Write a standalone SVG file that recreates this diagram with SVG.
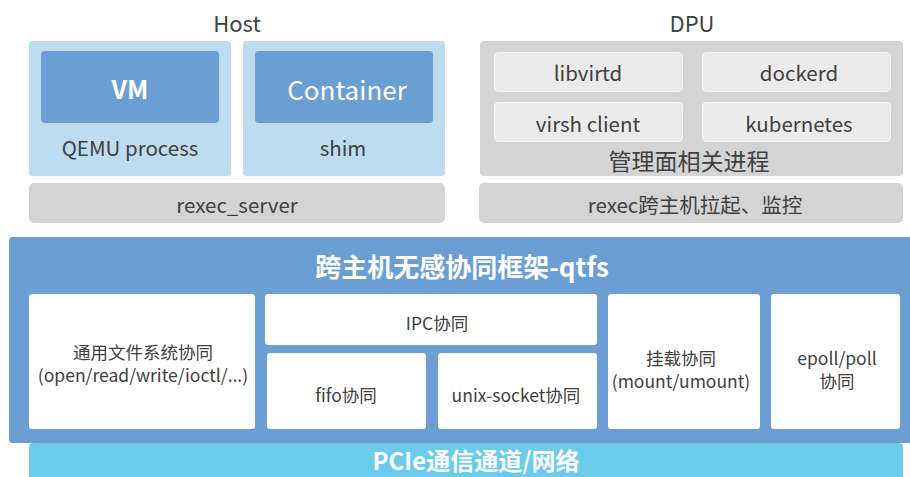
<svg xmlns="http://www.w3.org/2000/svg" width="910" height="477" viewBox="0 0 910 477">
<style>
text{font-family:"Noto Sans CJK SC","Noto Sans",sans-serif;text-anchor:middle;dominant-baseline:central}
.t{fill:#404040}
.w{fill:#fff}
.hb{fill:#bddcef}
.vm{fill:#6b9fd4}
.gb{fill:#d4d4d4}
.gi{fill:#ebebeb;stroke:#f6f6f6;stroke-width:1}
.wb{fill:#fff}
.s{font-size:17.5px}
</style>
<rect width="910" height="477" fill="#fff"/>
<g id="host">
<text class="t" x="237" y="22" font-size="22">Host</text>
</g>
<g id="host-vm">
<rect class="hb" x="29" y="41" width="202" height="135" rx="3"/>
<rect class="vm" x="41" y="51" width="178" height="72" rx="4"/>
<text class="w" x="130" y="88" font-size="25" font-weight="bold">VM</text>
<text class="t" x="130" y="147" font-size="20.5">QEMU process</text>
</g>
<g id="host-container">
<rect class="hb" x="243" y="41" width="202" height="135" rx="3"/>
<rect class="vm" x="255" y="51" width="178" height="72" rx="4"/>
<text class="w" x="347" y="88" font-size="26">Container</text>
<text class="t" x="343" y="147" font-size="20.5">shim</text>
</g>
<g id="rexec-server">
<rect class="gb" x="29" y="183" width="416" height="40" rx="5"/>
<text class="t" x="237" y="204" font-size="20.5">rexec_server</text>
</g>
<g id="dpu">
<text class="t" x="692" y="22" font-size="22">DPU</text>
<rect class="gb" x="480" y="41" width="423" height="135" rx="4"/>
<text class="t" x="689" y="160" font-size="23">管理面相关进程</text>
</g>
<g id="libvirtd">
<rect class="gi" x="494.5" y="52.5" width="188" height="39" rx="4"/>
<text class="t" x="588" y="72" font-size="20.5">libvirtd</text>
</g>
<g id="dockerd">
<rect class="gi" x="702.5" y="52.5" width="188" height="39" rx="4"/>
<text class="t" x="799" y="72" font-size="20.5">dockerd</text>
</g>
<g id="virsh">
<rect class="gi" x="494.5" y="102.5" width="188" height="39" rx="4"/>
<text class="t" x="588" y="123" font-size="20.5">virsh client</text>
</g>
<g id="kubernetes">
<rect class="gi" x="702.5" y="102.5" width="188" height="39" rx="4"/>
<text class="t" x="799" y="123" font-size="20.5">kubernetes</text>
</g>
<g id="rexec-dpu">
<rect class="gb" x="479" y="183" width="424" height="40" rx="5"/>
<text class="t" x="695" y="204" font-size="20.5">rexec跨主机拉起、监控</text>
</g>
<g id="qtfs">
<rect fill="#6b9fd3" x="9" y="237" width="910" height="206" rx="4"/>
<text class="w" x="462" y="265" font-size="26" font-weight="bold">跨主机无感协同框架-qtfs</text>
</g>
<g id="fs">
<rect class="wb" x="29" y="294" width="226" height="135" rx="3"/>
<text class="t s" x="143" y="351">通用文件系统协同</text>
<text class="t s" x="143" y="374">(open/read/write/ioctl/...)</text>
</g>
<g id="ipc">
<rect class="wb" x="265" y="294" width="332" height="51" rx="3"/>
<text class="t s" x="437" y="322">IPC协同</text>
</g>
<g id="fifo">
<rect class="wb" x="267" y="353" width="159" height="76" rx="3"/>
<text class="t s" x="346" y="394">fifo协同</text>
</g>
<g id="unix">
<rect class="wb" x="438" y="353" width="159" height="76" rx="3"/>
<text class="t s" x="516" y="394">unix-socket协同</text>
</g>
<g id="mount">
<rect class="wb" x="608" y="294" width="152" height="135" rx="3"/>
<text class="t s" x="681" y="357">挂载协同</text>
<text class="t s" x="681" y="380">(mount/umount)</text>
</g>
<g id="epoll">
<rect class="wb" x="771" y="294" width="129" height="135" rx="3"/>
<text class="t s" x="837" y="357">epoll/poll</text>
<text class="t s" x="837" y="380">协同</text>
</g>
<g id="pcie">
<rect fill="#6ccbea" x="29" y="443" width="874" height="40" rx="4"/>
<text class="w" x="476" y="459" font-size="24" font-weight="bold">PCIe通信通道/网络</text>
</g>
<g id="connectors"></g>
</svg>
